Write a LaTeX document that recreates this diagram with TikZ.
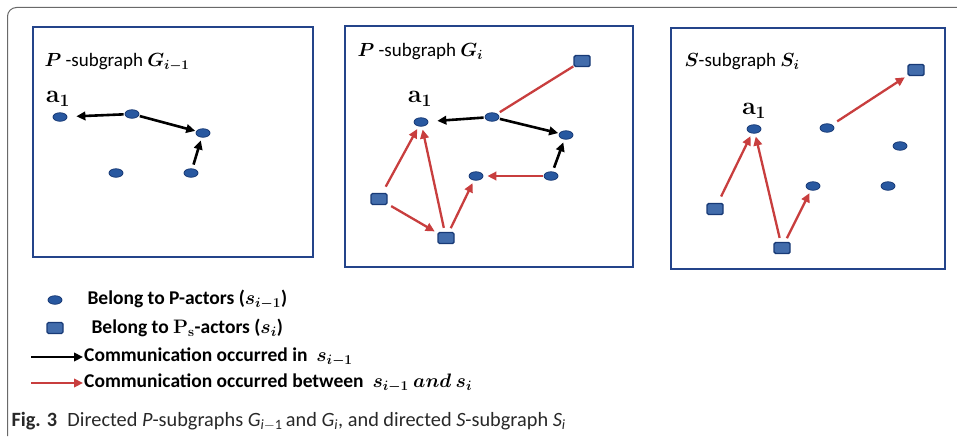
\RequirePackage{fix-cm}
\documentclass[tikz,border=0pt]{standalone}
\usepackage{amsmath,bm}
\usepackage[no-math]{fontspec}
\setmainfont{Carlito}
\usetikzlibrary{arrows.meta, shapes.geometric}
\definecolor{panelblue}{RGB}{36,68,138}
\definecolor{actorblue}{RGB}{40,88,160}
\definecolor{actorrim}{RGB}{24,58,118}
\definecolor{commred}{RGB}{200,62,62}
\definecolor{framegray}{RGB}{105,105,105}
\definecolor{captiongray}{RGB}{40,40,40}

\tikzset{
  pactor/.style={ellipse, draw=actorrim, fill=actorblue, line width=0.8pt,
    minimum width=14pt, minimum height=8.5pt, inner sep=0pt},
  sactor/.style={rectangle, rounded corners=1.5pt, draw=actorrim, fill=actorblue!88,
    line width=1.4pt, minimum width=16pt, minimum height=11pt, inner sep=0pt},
  panel/.style={draw=panelblue, line width=2.5pt},
  occur/.style={-{Triangle[length=9pt,width=8.5pt]}, line width=2.6pt, black,
    shorten >=3pt, shorten <=1pt},
  between/.style={occur, commred, line width=2.3pt},
  ptitle/.style={anchor=west, font=\fontsize{19}{22}\selectfont},
  alabel/.style={font=\fontsize{25}{28}\selectfont},
  legtext/.style={anchor=west, font=\bfseries\fontsize{19.5}{22}\selectfont},
}

\begin{document}
\begin{tikzpicture}[x=1pt, y=-1pt]
  \useasboundingbox (0,0) rectangle (957,436);

  % outer frame
  \draw[framegray, line width=1pt, rounded corners=9pt] (957,7.5) -- (7.5,7.5) -- (7.5,436);

  % Panel 1 -- P-subgraph G_{i-1}
  \draw[panel] (33,27) rectangle (313,257);
  \node[ptitle] (t1) at (41,62) {$\bm{P}$ -subgraph $\bm{G_{i-1}}$};
  \node[pactor] (p1a) at (60,117) {};
  \node[pactor] (p1b) at (132,114) {};
  \node[pactor] (p1c) at (203,133) {};
  \node[pactor] (p1d) at (116,173) {};
  \node[pactor] (p1e) at (191,173) {};
  \node[alabel] (l1) at (58,99) {$\mathbf{a_1}$};
  \draw[occur, shorten >=9pt] (p1b) -- (p1a);
  \draw[occur, shorten >=1pt] (p1b) -- (p1c);
  \draw[occur, shorten <=4pt] (p1e) -- (p1c);

  % Panel 2 -- P-subgraph G_i
  \draw[panel] (345,26) rectangle (633,267);
  \node[ptitle] (t2) at (354,52) {$\bm{P}$ -subgraph $\bm{G_{i}}$};
  \node[pactor] (p2a) at (421,122) {};
  \node[pactor] (p2b) at (492,117) {};
  \node[pactor] (p2c) at (566,135) {};
  \node[pactor] (p2d) at (476,176) {};
  \node[pactor] (p2e) at (551,176) {};
  \node[sactor] (p2s1) at (582,61) {};
  \node[sactor] (p2s2) at (379,199) {};
  \node[sactor] (p2s3) at (446,238) {};
  \node[alabel] (l2) at (420,99) {$\mathbf{a_1}$};
  \draw[occur, shorten >=9pt] (p2b) -- (p2a);
  \draw[occur, shorten >=1pt] (p2b) -- (p2c);
  \draw[occur, shorten <=4pt] (p2e) -- (p2c);
  \draw[commred, line width=2.3pt, shorten <=3pt] (p2b) -- (p2s1);
  \draw[between, shorten <=7pt] (p2s2) -- (p2a);
  \draw[between, shorten <=4pt] (p2s3) -- (p2a);
  \draw[between, shorten <=4pt] (p2s2) -- (p2s3);
  \draw[between, shorten <=4pt] (p2s3) -- (p2d);
  \draw[between, shorten >=4pt] (p2e) -- (p2d);

  % Panel 3 -- S-subgraph S_i
  \draw[panel] (671,28) rectangle (945,269);
  \node[ptitle] (t3) at (681,62) {$\bm{S}$-subgraph $\bm{S_{i}}$};
  \node[pactor] (p3a) at (754,129) {};
  \node[pactor] (p3b) at (827,128) {};
  \node[pactor] (p3c) at (900,146) {};
  \node[pactor] (p3d) at (813,186) {};
  \node[pactor] (p3e) at (888,186) {};
  \node[sactor] (p3s1) at (916,70) {};
  \node[sactor] (p3s2) at (715,209) {};
  \node[sactor] (p3s3) at (782,248) {};
  \node[alabel] (l3) at (754,111) {$\mathbf{a_1}$};
  \draw[between, shorten <=7pt] (p3s2) -- (p3a);
  \draw[between, shorten <=4pt] (p3s3) -- (p3a);
  \draw[between, shorten <=4pt] (p3s3) -- (p3d);
  \draw[between, shorten <=6pt] (p3b) -- (p3s1);

  % legend
  \node[pactor] (k1) at (55,300) {};
  \node[legtext] (k1t) at (84,300) {Belong to P-actors ($\bm{s_{i-1}}$)};
  \node[sactor] (k2) at (55,328) {};
  \node[legtext] (k2t) at (88,328) {Belong to $\mathbf{P_s}$-actors ($\bm{s_{i}}$)};
  \coordinate (k3a) at (31,357);
  \coordinate (k3b) at (83,357);
  \draw[occur, shorten >=0pt, shorten <=0pt] (k3a) -- (k3b);
  \node[legtext, inner sep=1pt] (k3t) at (k3b) {Communication occurred in \ $\bm{s_{i-1}}$};
  \coordinate (k4a) at (31,383);
  \coordinate (k4b) at (83,383);
  \draw[between, shorten >=0pt, shorten <=0pt] (k4a) -- (k4b);
  \node[legtext, inner sep=1pt] (k4t) at (k4b) {Communication occurred between \ $\bm{s_{i-1}}$ $\bm{and}$ $\bm{s_{i}}$};

  % caption
  \node[anchor=west, text=captiongray, font=\fontsize{20.3}{23}\selectfont] (cap) at (8,421)
    {\textbf{Fig. 3}\enspace Directed \textit{P}-subgraphs \textit{G}\textsubscript{\textit{i}$-$1}\,and \textit{G}\textsubscript{\textit{i}}, and directed \textit{S}-subgraph \textit{S}\textsubscript{\textit{i}}};
\end{tikzpicture}
\end{document}
